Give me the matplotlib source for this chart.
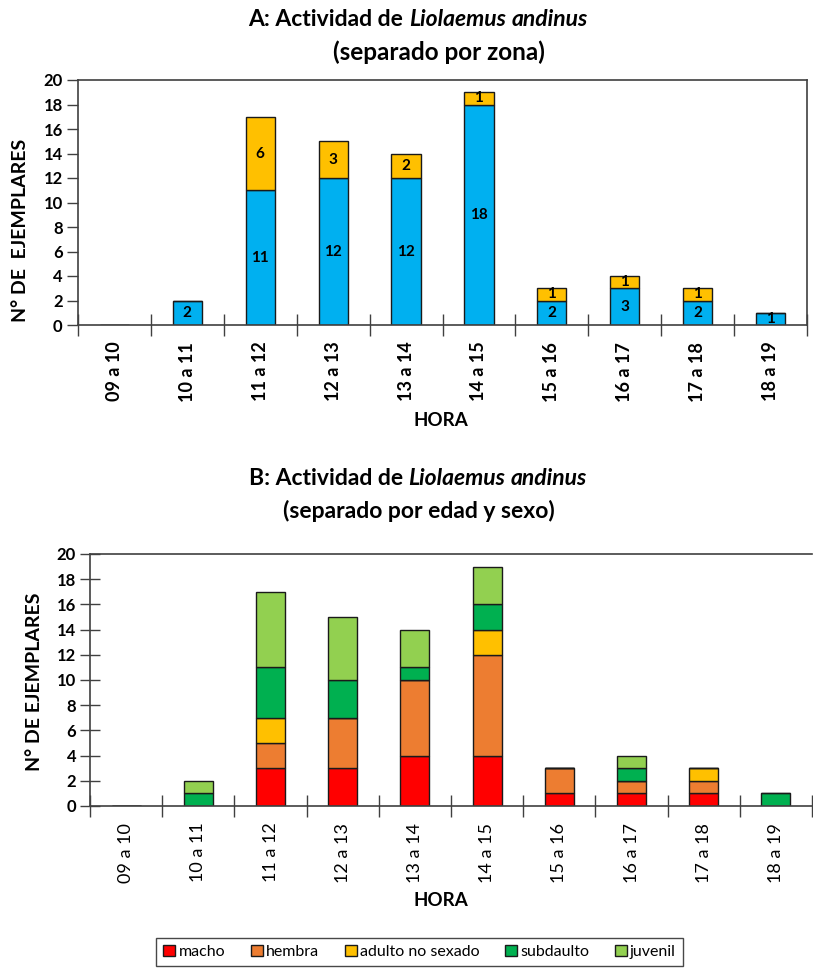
import matplotlib
matplotlib.use("Agg")
import matplotlib.pyplot as plt
from matplotlib.patches import Patch
import numpy as np

hours = ["09 a 10", "10 a 11", "11 a 12", "12 a 13", "13 a 14",
         "14 a 15", "15 a 16", "16 a 17", "17 a 18", "18 a 19"]

# Panel A (by zone)
zona_azul = [0, 2, 11, 12, 12, 18, 2, 3, 2, 1]
zona_amarilla = [0, 0, 6, 3, 2, 1, 1, 1, 1, 0]

# Panel B (by age and sex)
macho = [0, 0, 3, 3, 4, 4, 1, 1, 1, 0]
hembra = [0, 0, 2, 4, 6, 8, 2, 1, 1, 0]
adulto_ns = [0, 0, 2, 0, 0, 2, 0, 0, 1, 0]
subadulto = [0, 1, 4, 3, 1, 2, 0, 1, 0, 1]
juvenil = [0, 1, 6, 5, 3, 3, 0, 1, 0, 0]
series_b = [("macho", macho, "#FF0000"),
            ("hembra", hembra, "#ED7D31"),
            ("adulto no sexado", adulto_ns, "#FFC000"),
            ("subdaulto", subadulto, "#00B050"),
            ("juvenil", juvenil, "#92D050")]

FONT = "Lato"
plt.rcParams['font.family'] = [FONT, 'DejaVu Sans']

W, H = 813, 969
fig = plt.figure(figsize=(W / 100, H / 100), dpi=100)

def fx(px):
    return px / W

def fy(py):
    return 1 - py / H

SPINE = "#404040"
x = np.arange(len(hours))
bw = 0.4

def style_axes(ax, yticks_dir, xlab_weight, xlab_size):
    ax.set_xlim(-0.5, len(hours) - 0.5)
    ax.set_ylim(0, 20)
    ax.set_yticks(range(0, 21, 2))
    ax.set_xticks(x)
    ax.set_xticklabels(hours, rotation=90, fontsize=xlab_size, fontweight=xlab_weight)
    ax.set_xticks(np.arange(-0.5, len(hours), 1.0), minor=True)
    ax.tick_params(axis='x', which='major', length=0, pad=12)
    ax.tick_params(axis='x', which='minor', length=16, direction='inout', width=1, color=SPINE)
    ax.tick_params(axis='y', which='major', length=8 if yticks_dir == 'out' else 14,
                   direction=yticks_dir, width=1, color=SPINE, labelsize=12, pad=3)
    for lab in ax.get_yticklabels():
        lab.set_fontweight('bold')
    for s in ax.spines.values():
        s.set_color(SPINE)
        s.set_linewidth(1.2)

# ---------- Panel A ----------
axA = fig.add_axes([fx(78), fy(325), fx(807) - fx(78), fy(80) - fy(325)])
axA.bar(x, zona_azul, bw, color="#00B0F0", edgecolor="#1a1a1a", linewidth=1)
axA.bar(x, zona_amarilla, bw, bottom=zona_azul, color="#FFC000", edgecolor="#1a1a1a", linewidth=1)
for i in range(len(hours)):
    if zona_azul[i] > 0:
        axA.text(x[i], zona_azul[i] / 2, str(zona_azul[i]), ha='center', va='center',
                 fontsize=11, fontweight='bold')
    if zona_amarilla[i] > 0:
        axA.text(x[i], zona_azul[i] + zona_amarilla[i] / 2, str(zona_amarilla[i]),
                 ha='center', va='center', fontsize=11, fontweight='bold')
style_axes(axA, 'out', 'bold', 13)
fig.text(fx(20), fy(230), "N° DE  EJEMPLARES", rotation=90, ha='center', va='center',
         fontsize=14, fontweight='bold')
fig.text(fx(441), fy(421), "HORA", ha='center', va='center', fontsize=13.5, fontweight='bold')

# ---------- Panel B ----------
axB = fig.add_axes([fx(90), fy(806), fx(812) - fx(90), fy(554) - fy(806)])
bottom = np.zeros(len(hours))
for name, vals, col in series_b:
    v = np.array(vals, dtype=float)
    axB.bar(x, v, bw, bottom=bottom, color=col, edgecolor="#1a1a1a", linewidth=1)
    bottom += v
style_axes(axB, 'inout', 'normal', 13)
axB.spines['right'].set_visible(False)
fig.text(fx(35), fy(682), "N° DE EJEMPLARES", rotation=90, ha='center', va='center',
         fontsize=14, fontweight='bold')
fig.text(fx(441), fy(900), "HORA", ha='center', va='center', fontsize=13.5, fontweight='bold')

handles = [Patch(facecolor=c, edgecolor="#1a1a1a", label=n) for n, _, c in series_b]
leg = fig.legend(handles=handles, loc='center', bbox_to_anchor=(fx(419.5), fy(952)),
                 ncol=5, frameon=True, fancybox=False, edgecolor="#1a1a1a",
                 fontsize=11.5, handlelength=0.75, handleheight=0.75, handletextpad=0.2,
                 columnspacing=1.6, borderpad=0.45, borderaxespad=0)
leg.get_frame().set_linewidth(1)

# ---------- Titles with italic species name ----------
renderer = fig.canvas.get_renderer()

def rich_line(parts, xc_px, yc_px, size):
    sp = fig.text(0, 0, "a a", fontsize=size, fontweight='bold')
    nsp = fig.text(0, 0, "aa", fontsize=size, fontweight='bold')
    space = sp.get_window_extent(renderer).width - nsp.get_window_extent(renderer).width
    sp.remove(); nsp.remove()
    objs = []
    widths = []
    for s, st in parts:
        t = fig.text(0, fy(yc_px), s, fontsize=size, fontweight='bold', fontstyle=st,
                     ha='left', va='center')
        widths.append(t.get_window_extent(renderer).width)
        objs.append(t)
    total = sum(widths) + space * (len(parts) - 1)
    cur = xc_px - total / 2
    for t, w in zip(objs, widths):
        t.set_x(fx(cur))
        cur += w + space

rich_line([("A: Actividad de", 'normal'), ("Liolaemus", 'italic'), ("andinus", 'italic')], 418, 20, 16.5)
rich_line([("(separado por zona)", 'normal')], 439, 52, 17.5)
rich_line([("B: Actividad de", 'normal'), ("Liolaemus", 'italic'), ("andinus", 'italic')], 418, 478, 16.5)
rich_line([("(separado por edad y sexo)", 'normal')], 419, 511, 16.5)

fig.savefig("out.png", dpi=100)
